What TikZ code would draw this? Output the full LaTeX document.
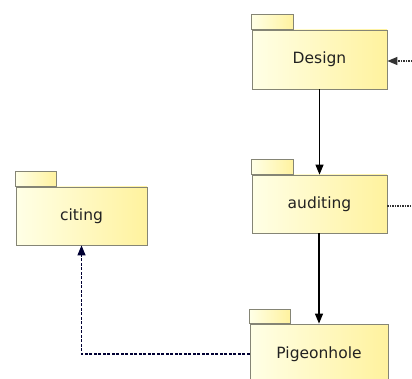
\documentclass[tikz,border=0pt]{standalone}
\usepackage{fontspec}
\setmainfont{DejaVu Sans}
\usetikzlibrary{arrows.meta}
\definecolor{pkgL}{HTML}{FFFFE6}
\definecolor{pkgR}{HTML}{FFF29E}
\definecolor{pkgB}{HTML}{858575}
\definecolor{txt}{HTML}{222222}
\tikzset{
  pkgbody/.style={draw=pkgB, line width=0.8pt, left color=pkgL, right color=pkgR,
    inner sep=0pt, font=\fontsize{15.5}{18}\selectfont, text=txt},
  pkgtab/.style={draw=pkgB, line width=0.8pt, left color=pkgL, right color=pkgR},
  solidarrow/.style={draw=black, line width=1.2pt, -{Triangle[length=10pt,width=8pt]}},
  dasharrow/.style={draw=black!80!blue, line width=1.2pt, dash pattern=on 3pt off 1.5pt, -{Triangle[length=10pt,width=8pt]}},
  dotline/.style={draw=black!80, line width=1.2pt, dash pattern=on 1.5pt off 1pt}
}
\begin{document}
\begin{tikzpicture}[x=1pt,y=-1pt]
\useasboundingbox (0,0) rectangle (412,379);
% packages
\node[pkgbody, minimum width=135pt, minimum height=59pt] (design) at (319.5,59.5) {Design};
\path[pkgtab] (design.north west) rectangle ++(42,-15);
\node[pkgbody, minimum width=135pt, minimum height=58pt] (auditing) at (319.5,204) {auditing};
\path[pkgtab] (auditing.north west) rectangle ++(42,-15);
\node[pkgbody, minimum width=131pt, minimum height=58pt] (citing) at (81.5,216) {citing};
\path[pkgtab] (citing.north west) rectangle ++(41,-15);
\node[pkgbody, minimum width=138pt, minimum height=60pt] (pigeon) at (319,354) {Pigeonhole};
\path[pkgtab] (pigeon.north west) rectangle ++(41,-14);
% free ends
\coordinate (inD) at (412,61);
\coordinate (outA) at (412,206);
% connectors
\draw[solidarrow] (design.south) -- (auditing.north);
\draw[solidarrow] (auditing.south -| pigeon.north) -- (pigeon.north);
\draw[dasharrow] (pigeon.west) -| (citing.south);
\draw[dotline, -{Triangle[length=10pt,width=8pt]}] (inD) -- (design.east |- inD);
\draw[dotline] (auditing.east |- outA) -- (outA);
\end{tikzpicture}
\end{document}
